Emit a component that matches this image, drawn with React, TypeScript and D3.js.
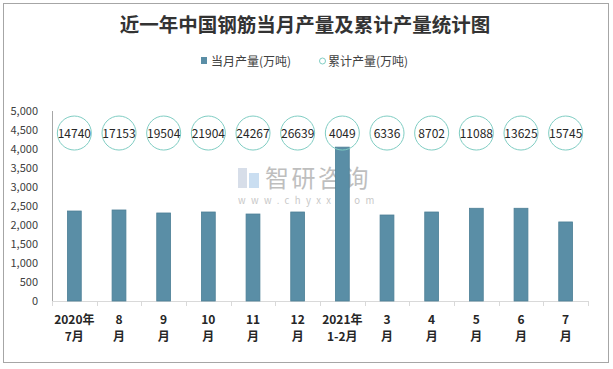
import React from 'react';
import * as d3 from 'd3';

const categories = ['2020年7月', '8月', '9月', '10月', '11月', '12月', '2021年1-2月', '3月', '4月', '5月', '6月', '7月'];
const labelLine1 = ['2020年', '8', '9', '10', '11', '12', '2021年', '3', '4', '5', '6', '7'];
const labelLine2 = ['7月', '月', '月', '月', '月', '月', '1-2月', '月', '月', '月', '月', '月'];
const monthly = [2368, 2395, 2316, 2342, 2289, 2342, 4049, 2263, 2342, 2440, 2440, 2080];
const cumulative = [14740, 17153, 19504, 21904, 24267, 26639, 4049, 6336, 8702, 11088, 13625, 15745];
const yTicks = [0, 500, 1000, 1500, 2000, 2500, 3000, 3500, 4000, 4500, 5000];

const W = 613;
const H = 369;
const font = '"Noto Sans CJK SC", "Noto Sans", sans-serif';

export default function App() {
  const svgRef = React.useRef<SVGSVGElement | null>(null);

  React.useEffect(() => {
    const svg = d3.select(svgRef.current);
    svg.selectAll('*').remove();

    const margin = { top: 111, right: 25, bottom: 68, left: 52 };
    const innerW = W - margin.left - margin.right;
    const innerH = H - margin.top - margin.bottom;

    // border
    svg.append('rect')
      .attr('x', 3.5).attr('y', 3.5).attr('width', 605).attr('height', 359)
      .attr('fill', '#fff').attr('stroke', '#a6a6a6');

    // title
    svg.append('text')
      .attr('x', 305).attr('y', 32)
      .attr('text-anchor', 'middle')
      .attr('font-family', font).attr('font-weight', 'bold').attr('font-size', 19.5)
      .attr('fill', '#333')
      .text('近一年中国钢筋当月产量及累计产量统计图');

    // legend
    const legend = svg.append('g').attr('font-family', font).attr('font-size', 12).attr('fill', '#404040');
    legend.append('rect').attr('x', 201).attr('y', 57).attr('width', 6).attr('height', 7).attr('fill', '#5a8ea6');
    legend.append('text').attr('x', 211).attr('y', 65.5).text('当月产量(万吨)');
    legend.append('circle').attr('cx', 322.5).attr('cy', 61).attr('r', 3).attr('fill', '#fff').attr('stroke', '#7fcdc3').attr('stroke-width', 1);
    legend.append('text').attr('x', 328).attr('y', 65.5).text('累计产量(万吨)');

    const g = svg.append('g').attr('transform', `translate(${margin.left},${margin.top})`);

    const x = d3.scaleBand<string>().domain(categories).range([0, innerW]).paddingInner(0.69).paddingOuter(0.345);
    const y = d3.scaleLinear().domain([0, 5000]).range([innerH, 0]);

    // watermark
    const wm = g.append('g').attr('opacity', 0.55);
    wm.append('rect').attr('x', 186).attr('y', 57).attr('width', 9).attr('height', 20).attr('fill', '#b8c4d8');
    wm.append('rect').attr('x', 197).attr('y', 62).attr('width', 10).attr('height', 15).attr('fill', '#9fc4e6');
    wm.append('text').attr('x', 213).attr('y', 76)
      .attr('font-family', font).attr('font-size', 24).attr('fill', '#8a8a8a')
      .attr('letter-spacing', 2.5).text('智研咨询');
    wm.append('text').attr('x', 186).attr('y', 93)
      .attr('font-family', font).attr('font-size', 9.5).attr('fill', '#9a9a9a')
      .attr('letter-spacing', 5.4).text('www.chyxx.com');

    // y axis
    g.append('line').attr('x1', 0.5).attr('x2', 0.5).attr('y1', 0).attr('y2', innerH).attr('stroke', '#a6a6a6');
    g.append('g')
      .selectAll('text')
      .data(yTicks)
      .join('text')
      .attr('x', -14)
      .attr('y', d => y(d) + 4)
      .attr('text-anchor', 'end')
      .attr('font-family', font).attr('font-size', 11).attr('fill', '#404040')
      .text(d => d3.format(',')(d));

    // x axis
    const xAxis = g.append('g').attr('transform', `translate(0,${innerH})`);
    xAxis.append('line').attr('x1', 0).attr('x2', innerW).attr('y1', 0.5).attr('y2', 0.5).attr('stroke', '#d9d9d9');
    const step = innerW / categories.length;
    xAxis.selectAll('.tick')
      .data(d3.range(categories.length + 1))
      .join('line')
      .attr('x1', i => Math.round(i * step) + 0.5).attr('x2', i => Math.round(i * step) + 0.5)
      .attr('y1', 0).attr('y2', 5).attr('stroke', '#d9d9d9');

    // bars
    g.append('g')
      .selectAll('rect')
      .data(monthly)
      .join('rect')
      .attr('x', (_, i) => x(categories[i])!)
      .attr('y', d => y(d))
      .attr('width', x.bandwidth())
      .attr('height', d => innerH - y(d))
      .attr('fill', '#5a8ea6')
      .attr('stroke', '#4d7f96')
      .attr('stroke-width', 0.8);

    // cumulative circles
    const cy = y(4420);
    const cg = g.append('g');
    cumulative.forEach((v, i) => {
      const cx = x(categories[i])! + x.bandwidth() / 2;
      cg.append('circle').attr('cx', cx).attr('cy', cy).attr('r', 17)
        .attr('fill', 'none').attr('stroke', '#7fcdc3').attr('stroke-width', 1);
      cg.append('text').attr('x', cx).attr('y', cy + 4.5)
        .attr('text-anchor', 'middle')
        .attr('font-family', font).attr('font-size', 12).attr('fill', '#262626')
        .text(String(v));
    });

    // x labels
    const lbl = xAxis.append('g').attr('font-family', font).attr('font-weight', 'bold').attr('font-size', 12).attr('fill', '#262626').attr('text-anchor', 'middle');
    categories.forEach((c, i) => {
      const cx = x(c)! + x.bandwidth() / 2;
      lbl.append('text').attr('x', cx).attr('y', 23).text(labelLine1[i]);
      lbl.append('text').attr('x', cx).attr('y', 40).text(labelLine2[i]);
    });
  }, []);

  return (
    <div style={{ position: 'absolute', left: 0, top: 0 }}>
      <svg ref={svgRef} width={W} height={H} style={{ display: 'block' }} />
    </div>
  );
}
